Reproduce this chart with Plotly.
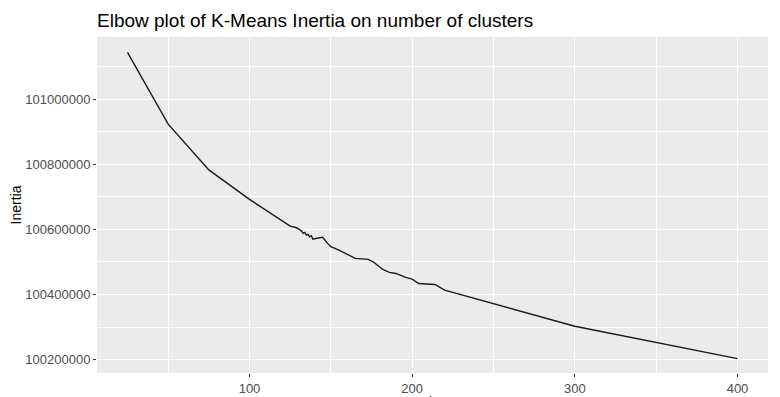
import plotly.graph_objects as go

clusters = [25, 50, 75, 100, 125, 129, 132, 133, 134, 135, 136, 137, 138, 139,
            143, 145, 148, 150, 155, 159, 165, 173, 176, 182, 186, 190, 196,
            200, 204, 214, 220, 300, 400]
inertia = [101143400, 100923100, 100782500, 100692000, 100610000, 100605000,
           100594800, 100587700, 100590800, 100582500, 100584600, 100577200,
           100580300, 100570100, 100574200, 100575400, 100556900, 100546500,
           100536300, 100526100, 100510800, 100507700, 100500300, 100476900,
           100467700, 100464600, 100452300, 100447100, 100433800, 100430800,
           100413200, 100302400, 100203100]

title_text = "Elbow plot of K-Means Inertia on number of clusters"
y_label = "Inertia"
x_label = "k"

# the page body has an 8px margin, so the figure is sized to fill the window
W, H = 772, 389

fig = go.Figure()
fig.add_trace(go.Scatter(x=clusters, y=inertia, mode="lines",
                         line=dict(color="#1a1a1a", width=1.4),
                         showlegend=False, hoverinfo="skip"))

font_family = "Liberation Sans, Arial, sans-serif"
axis_common = dict(
    showgrid=True, gridcolor="white", gridwidth=1.1,
    zeroline=False, showline=False,
    ticks="outside", ticklen=3, tickwidth=1, tickcolor="#333333",
    tickfont=dict(family=font_family, size=13, color="#4D4D4D"),
    automargin=False,
)

fig.update_layout(
    width=W, height=H, autosize=False,
    margin=dict(l=89, r=12, t=29, b=24),
    paper_bgcolor="white", plot_bgcolor="#EBEBEB",
    title=dict(text=title_text, x=89/W, xanchor="left", xref="container",
               y=1 - 12/H, yanchor="middle", yref="container",
               font=dict(family=font_family, size=19, color="black")),
    xaxis=dict(range=[6.25, 418.75], tick0=0, dtick=100,
               minor=dict(dtick=50, showgrid=True, gridcolor="white",
                          gridwidth=0.5, ticks=""),
               **axis_common),
    yaxis=dict(range=[100158800, 101190800], tick0=0, dtick=200000,
               tickformat="d",
               minor=dict(dtick=100000, showgrid=True, gridcolor="white",
                          gridwidth=0.5, ticks=""),
               title=dict(text=y_label, standoff=5,
                          font=dict(family=font_family, size=14, color="black")),
               **axis_common),
)

# x-axis title sits at the bottom edge, mostly cut off as in the reference
fig.add_annotation(text=x_label, xref="paper", yref="paper", x=0.5, y=0,
                   xanchor="center", yanchor="top", yshift=-19,
                   showarrow=False,
                   font=dict(family=font_family, size=14, color="black"))

fig.write_html("out.html")
